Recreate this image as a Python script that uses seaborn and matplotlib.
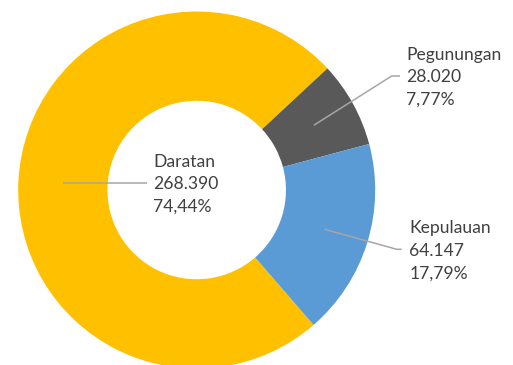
import numpy as np
import matplotlib
matplotlib.use("Agg")
import matplotlib.pyplot as plt
import seaborn as sns

categories = ["Daratan", "Pegunungan", "Kepulauan"]
values = [268390, 28020, 64147]
value_labels = ["268.390", "28.020", "64.147"]
pct_labels = ["74,44%", "7,77%", "17,79%"]
colors = ["#FFC000", "#595959", "#5B9BD5"]

sns.set_theme(style="white")
plt.rcParams['font.family'] = ['Lato', 'DejaVu Sans']

W, H = 513, 365
fig = plt.figure(figsize=(W / 100, H / 100), dpi=100)
ax = fig.add_axes([0, 0, 1, 1])
ax.set_xlim(0, W)
ax.set_ylim(0, H)
ax.set_aspect('equal')
ax.axis('off')

cx, cy, R = 196.7, H - 190.0, 178.5
wedges, _ = ax.pie(values, colors=colors, startangle=-49.1, counterclock=False,
                   center=(cx, cy), radius=R,
                   wedgeprops=dict(width=R * 0.5, linewidth=0))
ax.set_xlim(0, W)
ax.set_ylim(0, H)

# label layout: (elbow, line end, text left x)
layout = {
    "Daratan": dict(elbow=None, end=(146.7, None), tx=153.3),
    "Pegunungan": dict(elbow=(391.7, H - 76.0), end=(400.0, H - 76.0), tx=406.0),
    "Kepulauan": dict(elbow=(396.7, H - 249.3), end=(401.7, H - 249.3), tx=409.3),
}
line_col = "#A6A6A6"
txt_col = "#404040"
fs = 12.6
gap = 22.5
for w, cat, vl, pl in zip(wedges, categories, value_labels, pct_labels):
    mid = np.deg2rad((w.theta1 + w.theta2) / 2)
    ax_x = cx + 0.75 * R * np.cos(mid)
    ax_y = cy + 0.75 * R * np.sin(mid)
    lay = layout[cat]
    if lay["elbow"] is None:
        xs = [ax_x, lay["end"][0]]
        ys = [ax_y, ax_y]
        ly = ax_y
    else:
        xs = [ax_x, lay["elbow"][0], lay["end"][0]]
        ys = [ax_y, lay["elbow"][1], lay["end"][1]]
        ly = lay["end"][1]
    ax.plot(xs, ys, color=line_col, lw=1.1, solid_capstyle='butt')
    mid_y = ly - 1.5
    for i, t in enumerate([cat, vl, pl]):
        ax.text(lay["tx"], mid_y + gap * (1 - i), t, ha='left', va='center',
                fontsize=fs, color=txt_col)

fig.savefig("out.png", dpi=100, facecolor="white")
